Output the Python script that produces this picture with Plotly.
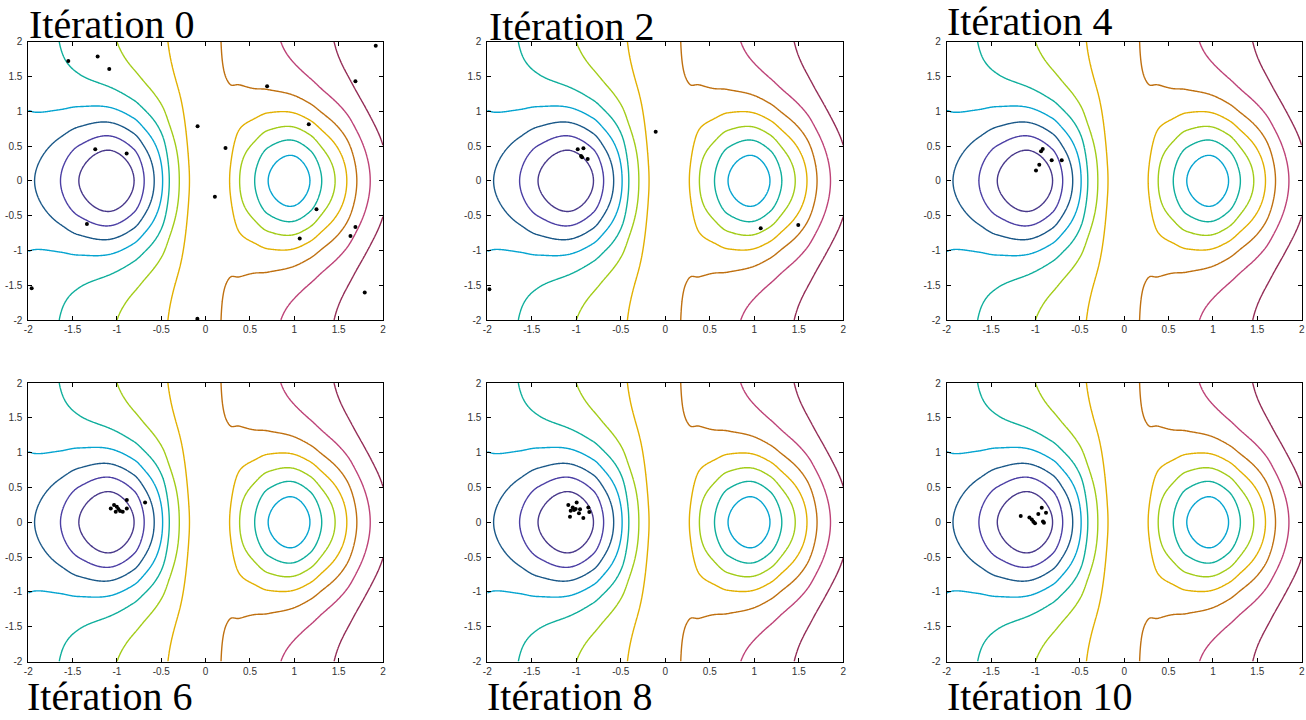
import numpy as np
import plotly.graph_objects as go

# ---------------- data ----------------
# Surface: z(x, y) = B(x) + P(x) * exp(-y^2)   (values in contour-level units)
B_x = [-2.0, 2.0]
B_val = [-2.51, 3.97]
P_x = [-2.0, -1.929, -1.637, -1.43, -1.046, -0.807, -0.693, -0.58, -0.485, -0.41,
       -0.297, -0.183, 0.05, 0.27, 0.383, 0.553, 0.705, 1.0, 1.176, 1.309, 1.46,
       1.592, 1.705, 1.856, 2.0]
P_val = [-1.37, -1.605, -3.078, -4.413, -6.06, -5.423, -4.607, -3.79, -2.944, -2.066,
         -1.249, -0.434, -0.25, -1.167, -2.35, -3.626, -4.872, -6.08, -5.635, -4.851,
         -4.095, -3.309, -2.492, -1.737, -1.26]

levels = [-6, -5, -4, -3, -2, -1, 0, 1, 2, 3]
level_colors = ["#48388a", "#4b3ea4", "#1a5888", "#05a4d0", "#0fae9c",
                "#a2cc18", "#e2b000", "#bf7010", "#bd4277", "#932c56"]

tick_vals = [-2, -1.5, -1, -0.5, 0, 0.5, 1, 1.5, 2]
tick_text = ["-2", "-1.5", "-1", "-0.5", "0", "0.5", "1", "1.5", "2"]

titles = ["Itération 0", "Itération 2", "Itération 4",
          "Itération 6", "Itération 8", "Itération 10"]

it0_x = [-1.549, -1.218, -1.087, 1.918, 1.689, 0.693, -0.091, 1.163, 0.224, -1.245,
         -0.891, 0.104, 1.25, -1.339, 1.689, 1.633, 1.061, -1.962, 1.794, -0.093]
it0_y = [1.723, 1.789, 1.608, 1.943, 1.431, 1.359, 0.784, 0.813, 0.473, 0.454,
         0.392, -0.227, -0.408, -0.619, -0.662, -0.791, -0.83, -1.543, -1.606, -1.983]

it2_x = [-0.984, -0.92, -0.947, -0.935, -0.872, -0.108, 1.072, 1.494, -1.977]
it2_y = [0.454, 0.468, 0.358, 0.34, 0.314, 0.707, -0.681, -0.634, -1.557]

it4_x = [-0.918, -0.937, -0.817, -0.704, -0.957, -0.994]
it4_y = [0.458, 0.425, 0.296, 0.296, 0.233, 0.147]

it6_x = [-1.07, -1.002, -1.014, -0.984, -0.935, -0.889, -0.889, -0.683, -1.033, -0.965]
it6_y = [0.199, 0.224, 0.152, 0.19, 0.152, 0.199, 0.32, 0.285, 0.248, 0.162]

it8_x = [-1.09, -0.996, -1.04, -1.063, -1.007, -0.958, -0.97, -1.071, -0.921, -0.865,
         -0.854, -1.025]
it8_y = [0.247, 0.285, 0.213, 0.165, 0.189, 0.185, 0.128, 0.079, 0.06, 0.213,
         0.146, 0.175]

it10_x = [-1.166, -1.068, -1.041, -1.023, -1.005, -0.968, -0.929, -0.881, -0.904, -0.915]
it10_y = [0.089, 0.07, 0.041, 0.007, -0.016, 0.117, 0.208, 0.136, -0.007, 0.012]

points = [(it0_x, it0_y), (it2_x, it2_y), (it4_x, it4_y),
          (it6_x, it6_y), (it8_x, it8_y), (it10_x, it10_y)]


# ---------------- surface construction ----------------
def pchip(xk, yk, xq):
    xk = np.asarray(xk, float)
    yk = np.asarray(yk, float)
    xq = np.asarray(xq, float)
    h = np.diff(xk)
    d = np.diff(yk) / h
    n = len(xk)
    m = np.zeros(n)
    for k in range(1, n - 1):
        if d[k - 1] * d[k] > 0:
            w1 = 2 * h[k] + h[k - 1]
            w2 = h[k] + 2 * h[k - 1]
            m[k] = (w1 + w2) / (w1 / d[k - 1] + w2 / d[k])
    m[0] = d[0]
    m[-1] = d[-1]
    idx = np.clip(np.searchsorted(xk, xq) - 1, 0, n - 2)
    t = (xq - xk[idx]) / h[idx]
    h00 = 2 * t**3 - 3 * t**2 + 1
    h10 = t**3 - 2 * t**2 + t
    h01 = -2 * t**3 + 3 * t**2
    h11 = t**3 - t**2
    return (h00 * yk[idx] + h10 * h[idx] * m[idx]
            + h01 * yk[idx + 1] + h11 * h[idx] * m[idx + 1])


grid = np.linspace(-2, 2, 401)
Bx = np.interp(grid, B_x, B_val)
Px = pchip(P_x, P_val, grid)
Z = Bx[None, :] + Px[None, :] * np.exp(-grid[:, None] ** 2)

lo, hi = levels[0], levels[-1]
colorscale = [[(lv - lo) / (hi - lo), c] for lv, c in zip(levels, level_colors)]

# ---------------- figure ----------------
W, H = 1306, 720
x_dom_px = [(28.3, 383.0), (487.3, 843.3), (946.7, 1301.7)]
y_dom_px = [(41.7, 320.0), (383.0, 661.5)]

fig = go.Figure()
for i in range(6):
    r, c = divmod(i, 3)
    ax = "" if i == 0 else str(i + 1)
    fig.add_trace(go.Contour(
        x=grid, y=grid, z=Z,
        xaxis="x" + ax, yaxis="y" + ax,
        autocontour=False,
        contours=dict(start=lo, end=hi, size=1, coloring="lines", showlabels=False),
        colorscale=colorscale, zmin=lo, zmax=hi,
        line=dict(width=1.4, smoothing=1),
        showscale=False, hoverinfo="skip",
    ))
    px_, py_ = points[i]
    fig.add_trace(go.Scatter(
        x=px_, y=py_, mode="markers",
        xaxis="x" + ax, yaxis="y" + ax,
        marker=dict(color="black", size=4, symbol="circle"),
        showlegend=False, hoverinfo="skip",
    ))
    xd = x_dom_px[c]
    yd = y_dom_px[r]
    axis_common = dict(
        range=[-2, 2], showgrid=False, zeroline=False, automargin=False,
        showline=True, linecolor="black", linewidth=1, mirror="ticks",
        ticks="inside", ticklen=4, tickcolor="black",
        tickvals=tick_vals, ticktext=tick_text,
        tickfont=dict(family="Liberation Sans, Arial, sans-serif", size=10, color="#333"),
        fixedrange=True,
    )
    fig.layout["xaxis" + ax] = dict(
        axis_common, domain=[xd[0] / W, xd[1] / W], anchor="y" + ax,
    )
    fig.layout["yaxis" + ax] = dict(
        axis_common, domain=[1 - yd[1] / H, 1 - yd[0] / H], anchor="x" + ax,
        ticklabelstandoff=3,
    )

# top row titles: centred vertically at given pixel row; bottom row: box bottom on the edge
title_x = [28, 488, 946, 26, 486, 946]
title_top_y = [24.5, 26.5, 21.5]
for k, txt in enumerate(titles):
    if k < 3:
        yv, ya = 1 - title_top_y[k] / H, "middle"
    else:
        yv, ya = 0.0, "bottom"
    fig.add_annotation(
        text=txt, xref="paper", yref="paper",
        x=title_x[k] / W, y=yv, xanchor="left", yanchor=ya,
        showarrow=False, borderpad=0,
        font=dict(family="Liberation Serif, Times New Roman, serif", size=40, color="black"),
    )

fig.update_layout(
    width=W, height=H, margin=dict(l=0, r=0, t=0, b=0),
    paper_bgcolor="white", plot_bgcolor="white", showlegend=False,
)

fig.write_html(
    "out.html",
    config={"displayModeBar": False, "staticPlot": True},
    post_script="document.body.style.margin='0';document.body.style.overflow='hidden';",
)
